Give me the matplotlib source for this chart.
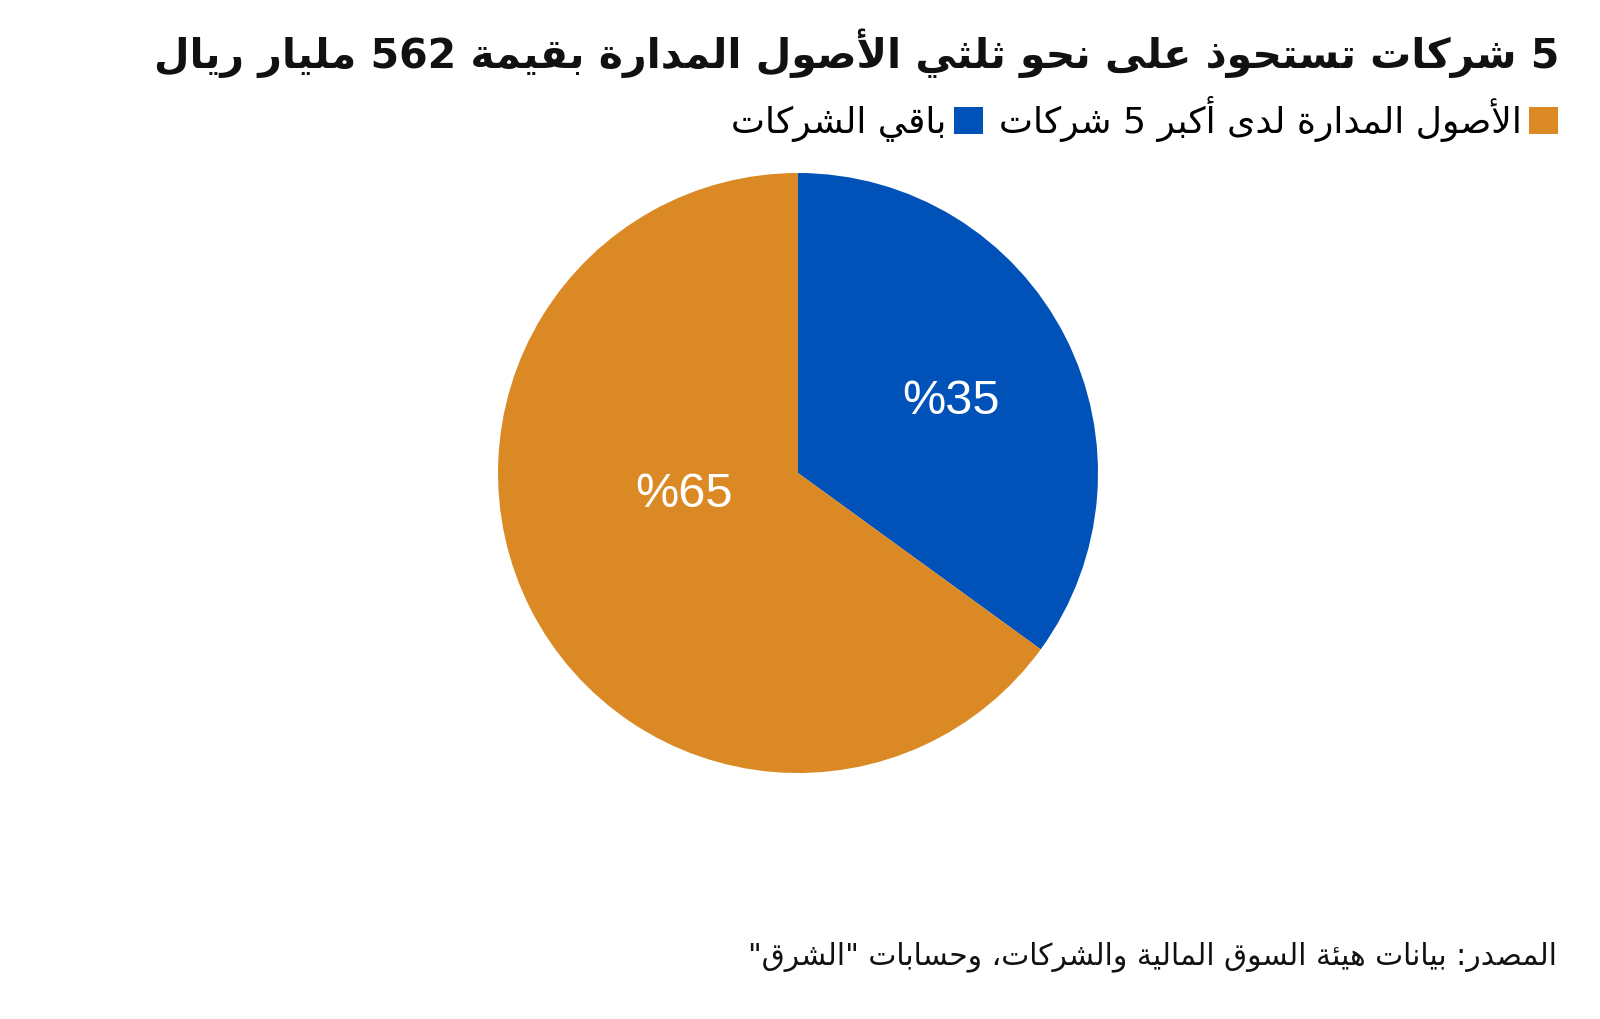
import matplotlib
matplotlib.use("Agg")
import matplotlib.pyplot as plt

# ---------------- data ----------------
title_text = "5 شركات تستحوذ على نحو ثلثي الأصول المدارة بقيمة 562 مليار ريال"
categories = ["باقي الشركات", "الأصول المدارة لدى أكبر 5 شركات"]
shares = [35, 65]
colors = ["#0052B9", "#DA8924"]
source_text = "المصدر: بيانات هيئة السوق المالية والشركات، وحسابات \"الشرق\""

# ---------------- minimal Arabic shaping ----------------
FORMS = {
    'ء': (0xFE80, None, None, None),
    'آ': (0xFE81, 0xFE82, None, None), 'أ': (0xFE83, 0xFE84, None, None),
    'ؤ': (0xFE85, 0xFE86, None, None), 'إ': (0xFE87, 0xFE88, None, None),
    'ئ': (0xFE89, 0xFE8A, 0xFE8B, 0xFE8C), 'ا': (0xFE8D, 0xFE8E, None, None),
    'ب': (0xFE8F, 0xFE90, 0xFE91, 0xFE92), 'ة': (0xFE93, 0xFE94, None, None),
    'ت': (0xFE95, 0xFE96, 0xFE97, 0xFE98), 'ث': (0xFE99, 0xFE9A, 0xFE9B, 0xFE9C),
    'ج': (0xFE9D, 0xFE9E, 0xFE9F, 0xFEA0), 'ح': (0xFEA1, 0xFEA2, 0xFEA3, 0xFEA4),
    'خ': (0xFEA5, 0xFEA6, 0xFEA7, 0xFEA8), 'د': (0xFEA9, 0xFEAA, None, None),
    'ذ': (0xFEAB, 0xFEAC, None, None), 'ر': (0xFEAD, 0xFEAE, None, None),
    'ز': (0xFEAF, 0xFEB0, None, None), 'س': (0xFEB1, 0xFEB2, 0xFEB3, 0xFEB4),
    'ش': (0xFEB5, 0xFEB6, 0xFEB7, 0xFEB8), 'ص': (0xFEB9, 0xFEBA, 0xFEBB, 0xFEBC),
    'ض': (0xFEBD, 0xFEBE, 0xFEBF, 0xFEC0), 'ط': (0xFEC1, 0xFEC2, 0xFEC3, 0xFEC4),
    'ظ': (0xFEC5, 0xFEC6, 0xFEC7, 0xFEC8), 'ع': (0xFEC9, 0xFECA, 0xFECB, 0xFECC),
    'غ': (0xFECD, 0xFECE, 0xFECF, 0xFED0), 'ف': (0xFED1, 0xFED2, 0xFED3, 0xFED4),
    'ق': (0xFED5, 0xFED6, 0xFED7, 0xFED8), 'ك': (0xFED9, 0xFEDA, 0xFEDB, 0xFEDC),
    'ل': (0xFEDD, 0xFEDE, 0xFEDF, 0xFEE0), 'م': (0xFEE1, 0xFEE2, 0xFEE3, 0xFEE4),
    'ن': (0xFEE5, 0xFEE6, 0xFEE7, 0xFEE8), 'ه': (0xFEE9, 0xFEEA, 0xFEEB, 0xFEEC),
    'و': (0xFEED, 0xFEEE, None, None), 'ى': (0xFEEF, 0xFEF0, None, None),
    'ي': (0xFEF1, 0xFEF2, 0xFEF3, 0xFEF4),
}
LAM_ALEF = {'آ': (0xFEF5, 0xFEF6), 'أ': (0xFEF7, 0xFEF8),
            'إ': (0xFEF9, 0xFEFA), 'ا': (0xFEFB, 0xFEFC)}


def joins_left(c):
    return c in FORMS and FORMS[c][2] is not None


def shape(s):
    out = []
    i = 0
    n = len(s)
    while i < n:
        c = s[i]
        prev = s[i - 1] if i > 0 else ''
        if c not in FORMS:
            out.append(c)
            i += 1
            continue
        pj = joins_left(prev)
        if c == 'ل' and i + 1 < n and s[i + 1] in LAM_ALEF:
            iso, fin = LAM_ALEF[s[i + 1]]
            out.append(chr(fin if pj else iso))
            i += 2
            continue
        nxt = s[i + 1] if i + 1 < n else ''
        nj = nxt in FORMS and joins_left(c)
        iso, fin, ini, med = FORMS[c]
        if pj and nj:
            f = med
        elif pj:
            f = fin
        elif nj:
            f = ini
        else:
            f = iso
        out.append(chr(f))
        i += 1
    return ''.join(out)


def visual(s):
    t = shape(s)
    runs = []
    cur = ''
    for ch in t:
        if ch.isdigit():
            cur += ch
        else:
            if cur:
                runs.append(cur)
                cur = ''
            runs.append(ch)
    if cur:
        runs.append(cur)
    return ''.join(reversed(runs))


AR = ["DejaVu Sans"]

# ---------------- figure ----------------
W, H = 1600, 1019
fig = plt.figure(figsize=(W / 100, H / 100), dpi=100)
fig.patch.set_facecolor("white")

cx, cy, r = 798, 473, 300
ax = fig.add_axes([(cx - r) / W, 1 - (cy + r) / H, 2 * r / W, 2 * r / H])
wedges, _ = ax.pie(shares, colors=colors, startangle=90, counterclock=False,
                   wedgeprops=dict(linewidth=0), radius=1)
ax.set_xlim(-1, 1)
ax.set_ylim(-1, 1)
ax.set_aspect("equal")
ax.axis("off")

label_pos = [(0.51, 0.24), (-0.38, -0.07)]
for v, (x, y) in zip(shares, label_pos):
    ax.text(x, y, f"%{v}", color="white", fontsize=35, family="Liberation Sans",
            ha="center", va="center")

# title
fig.text(1559 / W, 1 - 53 / H, visual(title_text), family=AR, fontweight="bold",
         fontsize=29.5, ha="right", va="center", color="#111111")

# legend (right to left)
leg = fig.legend(handles=list(wedges),
                 labels=[visual(c) for c in categories],
                 ncol=2, markerfirst=False, loc="center right",
                 bbox_to_anchor=(1558 / W, 1 - 119 / H), frameon=False,
                 prop={"family": AR, "size": 26}, handlelength=0.8,
                 handleheight=0.8, handletextpad=0.2, columnspacing=0.45,
                 borderpad=0, borderaxespad=0)

# source
fig.text(1557 / W, 1 - 957 / H, visual(source_text), family=AR,
         fontsize=21.4, ha="right", va="center", color="#111111")

fig.savefig("out.png", dpi=100, facecolor="white")
